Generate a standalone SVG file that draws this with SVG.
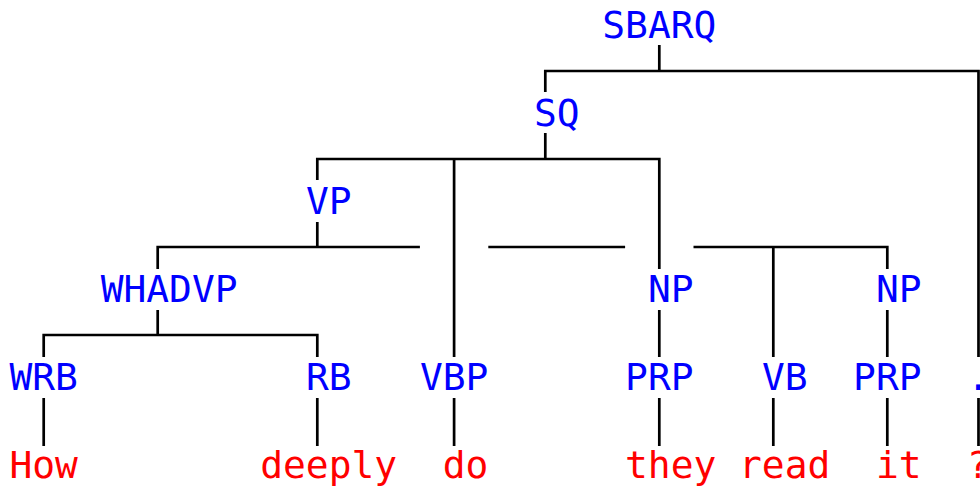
<svg xmlns="http://www.w3.org/2000/svg" width="980" height="490" viewBox="0 0 980 490">
<style>
text{font-family:"DejaVu Sans Mono","Liberation Mono",monospace;font-size:37.9px;text-anchor:middle}
.n{fill:#0000FF}
.w{fill:#FF0000}
#connectors path{fill:none;stroke:#000;stroke-width:2.7}
</style>
<rect width="980" height="490" fill="#fff"/>
<g id="connectors">
<path d="M659.3 45V71M545.3 92V71H978.5V357"/>
<path d="M545.3 133V159M317.3 180V159H659.3V269M454.1 159V357"/>
<path d="M317.3 222V247M157.7 269V247H419.9M488.3 247H625.1M693.5 247H887.3V269M773.3 247V357"/>
<path d="M157.7 310V335M43.7 357V335H317.3V357"/>
<path d="M659.3 310V357M887.3 310V357"/>
<path d="M43.7 398V446M317.3 398V446M454.1 398V446M659.3 398V446M773.3 398V446M887.3 398V446M978.5 398V446"/>
</g>
<g id="SBARQ"><text class="n" x="659.3" y="38">SBARQ</text></g>
<g id="SQ"><text class="n" x="556.7" y="126">SQ</text></g>
<g id="VP"><text class="n" x="328.7" y="214">VP</text></g>
<g id="WHADVP"><text class="n" x="169.1" y="302">WHADVP</text></g>
<g id="NP1"><text class="n" x="670.7" y="302">NP</text></g>
<g id="NP2"><text class="n" x="898.7" y="302">NP</text></g>
<g id="WRB"><text class="n" x="43.7" y="390">WRB</text></g>
<g id="RB"><text class="n" x="328.7" y="390">RB</text></g>
<g id="VBP"><text class="n" x="454.1" y="390">VBP</text></g>
<g id="PRP1"><text class="n" x="659.3" y="390">PRP</text></g>
<g id="VB"><text class="n" x="784.7" y="390">VB</text></g>
<g id="PRP2"><text class="n" x="887.3" y="390">PRP</text></g>
<g id="PUNCT"><text class="n" x="978.5" y="390">.</text></g>
<g id="How"><text class="w" x="43.7" y="478">How</text></g>
<g id="deeply"><text class="w" x="328.7" y="478">deeply</text></g>
<g id="do"><text class="w" x="465.5" y="478">do</text></g>
<g id="they"><text class="w" x="670.7" y="478">they</text></g>
<g id="read"><text class="w" x="784.7" y="478">read</text></g>
<g id="it"><text class="w" x="898.7" y="478">it</text></g>
<g id="qmark"><text class="w" x="978.5" y="478">?</text></g>
</svg>
